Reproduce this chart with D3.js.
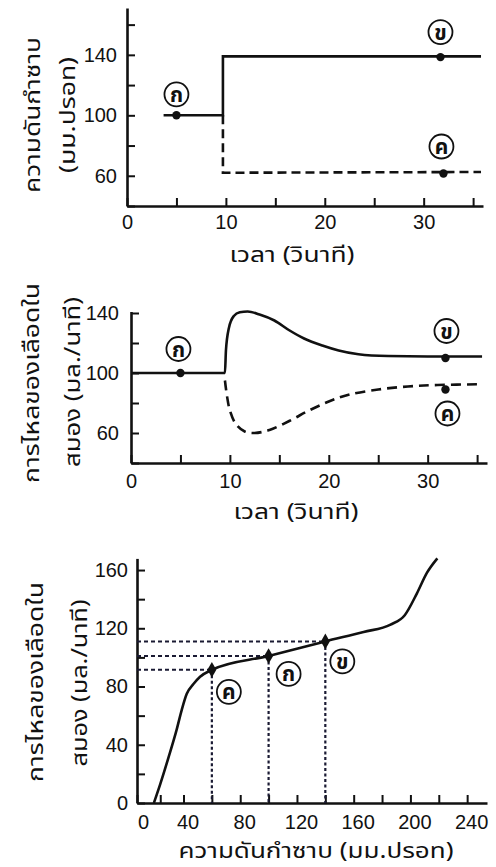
<!DOCTYPE html>
<html>
<head>
<meta charset="utf-8">
<script src="https://cdn.jsdelivr.net/npm/d3@7"></script>
<style>
    body { margin: 0; background: #fff; }
    svg { display: block; font-family: "Liberation Sans", Arial, sans-serif; }
    .thai { font-family: "Noto Sans Thai", "Noto Sans", "DejaVu Sans", sans-serif; }
</style>
</head>
<body>
<svg id="chart" width="496" height="867"></svg>
<script>
//Panel 1 : blood pressure vs time
const bpXTicks = [0, 10, 20, 30];
const bpYTicks = [60, 100, 140];
const bpSolid = [[3.7, 100], [9.7, 100], [9.7, 139], [35.8, 139]];
const bpDashed = [[9.7, 100], [9.7, 62], [35.8, 62.5]];
const bpPoints = [
    {label: "ก", x: 5, y: 100},
    {label: "ข", x: 31.7, y: 138.5},
    {label: "ค", x: 32, y: 61.5}
];

//Panel 2 : brain blood flow vs time
const flowXTicks = [0, 10, 20, 30];
const flowYTicks = [60, 100, 140];
const flowSolid = [[0, 100], [9.5, 100], [9.6, 115], [9.9, 130], [10.4, 138], [11, 140.5], [11.8, 141],
    [13, 139], [14.5, 135], [16, 128.5], [17.5, 123], [19.5, 118], [21, 115], [23, 112.5], [26, 111.3],
    [30, 111], [35.5, 111]];
const flowDashed = [[9.5, 95], [9.7, 85], [10, 75], [10.6, 66], [11.5, 61], [12.5, 60], [14, 62], [16, 68],
    [18, 75], [20, 81], [22, 85.5], [25, 89], [28, 91], [31, 92], [35.5, 92.5]];
const flowPoints = [
    {label: "ก", x: 5, y: 100},
    {label: "ข", x: 31.8, y: 110},
    {label: "ค", x: 31.8, y: 89}
];

//Panel 3 : brain blood flow vs perfusion pressure
const autoXTicks = [0, 40, 80, 120, 160, 200, 240];
const autoYTicks = [0, 40, 80, 120, 160];
const autoCurve = [[14.5, 0], [20, 13], [27, 31], [34, 50], [38.5, 64], [42.3, 75], [47, 81.7], [51.7, 86.7],
    [60, 91.5], [100, 101], [122, 106.5], [140, 111], [167, 117.5], [186, 122.5], [196, 129], [204.6, 144],
    [211.6, 158], [219, 168]];
const autoPoints = [
    {label: "ค", x: 60, y: 91.5},
    {label: "ก", x: 100, y: 101},
    {label: "ข", x: 140, y: 111}
];

let svg = d3.select("#chart");

//draw one set of axes with inward ticks
function drawAxes(g, x, y, xTicks, yTicks, xMinor, yMinor, xPad, yPad) {
    let xAxis = d3.axisBottom(x).tickValues(xMinor).tickSizeInner(-8).tickSizeOuter(0).tickPadding(xPad)
        .tickFormat(d => xTicks.includes(d) ? d : "");
    let yAxis = d3.axisLeft(y).tickValues(yMinor).tickSizeInner(-8).tickSizeOuter(0).tickPadding(yPad)
        .tickFormat(d => yTicks.includes(d) ? d : "");
    let gx = g.append("g").attr("transform", "translate(0," + y.range()[0] + ")").call(xAxis);
    let gy = g.append("g").attr("transform", "translate(" + x.range()[0] + ",0)").call(yAxis);
    [gx, gy].forEach(a => {
        a.select(".domain").attr("stroke", "#111").attr("stroke-width", 2.6);
        a.selectAll(".tick line").attr("stroke", "#111").attr("stroke-width", 2);
        a.selectAll(".tick text").attr("fill", "#111").attr("font-size", 20)
            .attr("font-family", "'Liberation Sans', Arial, sans-serif");
    });
    return {gx: gx, gy: gy};
}

function circled(g, cx, cy, label) {
    g.append("circle").attr("cx", cx).attr("cy", cy).attr("r", 12)
        .attr("fill", "#fff").attr("stroke", "#111").attr("stroke-width", 1.8);
    g.append("text").attr("class", "thai").attr("x", cx).attr("y", cy + 1)
        .attr("text-anchor", "middle").attr("dominant-baseline", "central")
        .attr("font-size", 21).attr("font-weight", "bold").attr("fill", "#111").text(label);
}

//rotated title, stretched to the length seen in the figure
function yTitle(g, cx, cy, txt, len) {
    g.append("text").attr("class", "thai")
        .attr("transform", "translate(" + cx + "," + cy + ") rotate(-90)")
        .attr("text-anchor", "middle").attr("dominant-baseline", "central")
        .attr("textLength", len).attr("lengthAdjust", "spacingAndGlyphs")
        .attr("font-size", 22).attr("fill", "#111").text(txt);
}

function xTitle(g, cx, cy, txt, len) {
    g.append("text").attr("class", "thai").attr("x", cx).attr("y", cy)
        .attr("text-anchor", "middle").attr("dominant-baseline", "central")
        .attr("textLength", len).attr("lengthAdjust", "spacingAndGlyphs")
        .attr("font-size", 21).attr("fill", "#111").text(txt);
}

//Panel 1
{
    let g = svg.append("g");
    let x = d3.scaleLinear().domain([0, 36]).range([127, 483]);
    let y = d3.scaleLinear().domain([40, 171]).range([206, 8]);
    drawAxes(g, x, y, bpXTicks, bpYTicks, d3.range(0, 36, 5), d3.range(40, 170, 20), 9, 10);
    let line = d3.line().x(d => x(d[0])).y(d => y(d[1]));
    g.append("path").datum(bpSolid).attr("d", line)
        .attr("fill", "none").attr("stroke", "#111").attr("stroke-width", 2.6);
    g.append("path").datum(bpDashed).attr("d", line)
        .attr("fill", "none").attr("stroke", "#111").attr("stroke-width", 2.6).attr("stroke-dasharray", "9,5");
    g.selectAll(".dot").data(bpPoints).enter().append("circle")
        .attr("cx", d => x(d.x)).attr("cy", d => y(d.y)).attr("r", 4.2).attr("fill", "#111");
    let off = [[0, -21], [0, -25], [-2, -27]];
    bpPoints.forEach((d, i) => circled(g, x(d.x) + off[i][0], y(d.y) + off[i][1], d.label));
    yTitle(g, 33, 115, "ความดันกำซาบ", 156);
    yTitle(g, 68, 115, "(มม.ปรอท)", 116);
    xTitle(g, 292, 255, "เวลา (วินาที)", 125);
}

//Panel 2
{
    let g = svg.append("g");
    let x = d3.scaleLinear().domain([0, 36]).range([131, 487]);
    let y = d3.scaleLinear().domain([40, 141]).range([463, 311.5]);
    drawAxes(g, x, y, flowXTicks, flowYTicks, d3.range(0, 36, 5), d3.range(40, 141, 20), 11, 12);
    let line = d3.line().x(d => x(d[0])).y(d => y(d[1])).curve(d3.curveMonotoneX);
    g.append("path").datum(flowSolid).attr("d", line)
        .attr("fill", "none").attr("stroke", "#111").attr("stroke-width", 2.6);
    g.append("path").datum(flowDashed).attr("d", d3.line().x(d => x(d[0])).y(d => y(d[1])).curve(d3.curveCatmullRom))
        .attr("fill", "none").attr("stroke", "#111").attr("stroke-width", 2.6).attr("stroke-dasharray", "10,6");
    g.selectAll(".dot").data(flowPoints).enter().append("circle")
        .attr("cx", d => x(d.x)).attr("cy", d => y(d.y)).attr("r", 4.2).attr("fill", "#111");
    let off = [[-2, -24], [1, -27], [2, 24]];
    flowPoints.forEach((d, i) => circled(g, x(d.x) + off[i][0], y(d.y) + off[i][1], d.label));
    yTitle(g, 32, 383, "การไหลของเลือดใน", 200);
    yTitle(g, 73, 382, "สมอง (มล./นาที)", 170);
    xTitle(g, 296, 512, "เวลา (วินาที)", 125);
}

//Panel 3
{
    let g = svg.append("g");
    let x = d3.scaleLinear().domain([0, 40, 254]).range([137, 183.5, 487]);
    let y = d3.scaleLinear().domain([0, 168]).range([803, 558.4]);
    let ax = drawAxes(g, x, y, autoXTicks, autoYTicks, d3.range(0, 241, 20), d3.range(0, 161, 20), 12, 9);
    ax.gx.selectAll(".tick text").attr("dx", d => d === 0 ? 6 : 4);
    //reference lines to the axes
    g.selectAll(".hline").data(autoPoints).enter().append("line")
        .attr("x1", x(0)).attr("x2", d => x(d.x)).attr("y1", d => y(d.y)).attr("y2", d => y(d.y))
        .attr("stroke", "#1a1a33").attr("stroke-width", 2).attr("stroke-dasharray", "4,3");
    g.selectAll(".vline").data(autoPoints).enter().append("line")
        .attr("x1", d => x(d.x)).attr("x2", d => x(d.x)).attr("y1", d => y(d.y)).attr("y2", y(0))
        .attr("stroke", "#1a1a33").attr("stroke-width", 2.2).attr("stroke-dasharray", "3,2.5");
    let line = d3.line().x(d => x(d[0])).y(d => y(d[1])).curve(d3.curveMonotoneX);
    g.append("path").datum(autoCurve).attr("d", line)
        .attr("fill", "none").attr("stroke", "#111").attr("stroke-width", 2.6);
    g.selectAll(".dot").data(autoPoints).enter().append("path")
        .attr("transform", d => "translate(" + x(d.x) + "," + y(d.y) + ")")
        .attr("d", d3.symbol().type(d3.symbolDiamond).size(70)).attr("fill", "#111");
    let off = [[17, 22], [20, 18], [17, 20]];
    autoPoints.forEach((d, i) => circled(g, x(d.x) + off[i][0], y(d.y) + off[i][1], d.label));
    yTitle(g, 36, 682, "การไหลของเลือดใน", 200);
    yTitle(g, 80, 683, "สมอง (มล./นาที)", 167);
    xTitle(g, 316, 851, "ความดันกำซาบ (มม.ปรอท)", 275);
}
</script>
</body>
</html>
